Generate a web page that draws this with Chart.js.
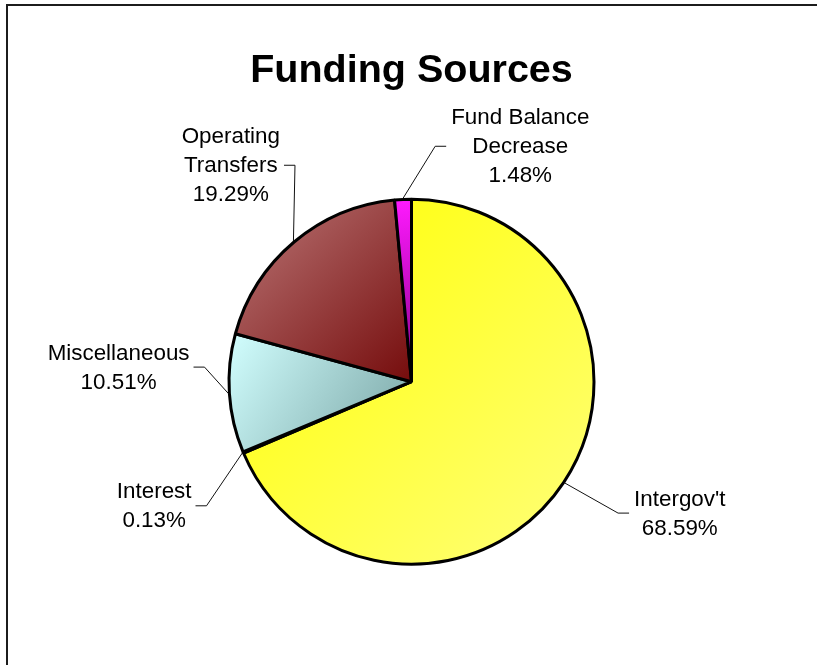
<!DOCTYPE html>
<html>
<head>
<meta charset="utf-8">
<script src="https://cdn.jsdelivr.net/npm/chart.js@4.4.1/dist/chart.umd.min.js"></script>
<style>
    body { margin: 0; background: #fff; overflow: hidden; }
    #wrap { position: relative; width: 817px; height: 665px; }
    #frame {
        position: absolute; left: 6px; top: 4px; width: 900px; height: 800px;
        border-left: 2px solid #1c1c1c; border-top: 2px solid #1c1c1c;
    }
    #c_funding { position: absolute; left: 0; top: 0; }
</style>
</head>
<body>
<div id="wrap">
    <div id="frame"></div>
    <canvas id="c_funding" width="817" height="665"></canvas>
</div>
<script>
// Funding sources, clockwise from 12 o'clock
const sources = ["Intergov't", 'Interest', 'Miscellaneous', 'Operating Transfers', 'Fund Balance Decrease']
const shares = [68.59, 0.13, 10.51, 19.29, 1.48]
// label text split over lines
const labelLines = [["Intergov't"], ['Interest'], ['Miscellaneous'], ['Operating', 'Transfers'], ['Fund Balance', 'Decrease']]
// slice fill: light corner -> dark corner
const fillFrom = ['#ffff00', '#3366cc', '#d2ffff', '#bb7777', '#ff1aff']
const fillTo = ['#ffff7a', '#1a3a80', '#78a3a3', '#750c0c', '#8a008a']

const labelFont = '22.4px "Liberation Sans", Arial, sans-serif'
const pieRadius = 182.5

// where each label block sits, in pie radii from the centre
const labelPos = [
    [1.47, 0.72],
    [-1.41, 0.68],
    [-1.605, -0.08],
    [-0.99, -1.186],
    [0.596, -1.29]
]

const total = shares.reduce((a, b) => a + b, 0)

function sliceGradient(c) {
    const chart = c.chart
    const area = chart.chartArea
    const i = c.dataIndex
    if (!area || i === undefined) return fillFrom[i] || fillFrom[0]
    const cx = (area.left + area.right) / 2
    const cy = (area.top + area.bottom) / 2
    let before = 0
    for (let k = 0; k < i; k++) before += shares[k]
    const a0 = -Math.PI / 2 + 2 * Math.PI * before / total
    const a1 = a0 + 2 * Math.PI * shares[i] / total
    // bounding box of the sector
    let pts = [[cx, cy], [cx + Math.cos(a0) * pieRadius, cy + Math.sin(a0) * pieRadius],
        [cx + Math.cos(a1) * pieRadius, cy + Math.sin(a1) * pieRadius]]
    for (let q = -1; q <= 4; q++) {
        const a = q * Math.PI / 2
        if (a > a0 && a < a1) pts.push([cx + Math.cos(a) * pieRadius, cy + Math.sin(a) * pieRadius])
    }
    const xs = pts.map(p => p[0]), ys = pts.map(p => p[1])
    const g = chart.ctx.createLinearGradient(Math.min(...xs), Math.min(...ys), Math.max(...xs), Math.max(...ys))
    g.addColorStop(0, fillFrom[i])
    g.addColorStop(1, fillTo[i])
    return g
}

// outside labels with elbow leader lines
const outsideLabels = {
    id: 'outsideLabels',
    afterDatasetsDraw(chart) {
        const ctx = chart.ctx
        const arcs = chart.getDatasetMeta(0).data
        ctx.save()
        ctx.font = labelFont
        ctx.fillStyle = '#000'
        ctx.strokeStyle = '#111'
        ctx.lineWidth = 1
        ctx.textAlign = 'center'
        ctx.textBaseline = 'middle'
        const lineH = 29
        arcs.forEach((arc, i) => {
            const { x, y, startAngle, endAngle, outerRadius } = arc.getProps(['x', 'y', 'startAngle', 'endAngle', 'outerRadius'], true)
            const mid = (startAngle + endAngle) / 2
            const ax = x + Math.cos(mid) * (outerRadius + 1)
            const ay = y + Math.sin(mid) * (outerRadius + 1)
            const lines = labelLines[i].concat([shares[i].toFixed(2) + '%'])
            const bx = x + labelPos[i][0] * outerRadius
            const by = y + labelPos[i][1] * outerRadius
            const w = Math.max(...lines.map(t => ctx.measureText(t).width))
            const right = labelPos[i][0] > 0
            const endX = right ? bx - w / 2 - 5 : bx + w / 2 + 4
            const elbowX = right ? endX - 11 : endX + 11
            ctx.beginPath()
            ctx.moveTo(ax, ay)
            ctx.lineTo(elbowX, by)
            ctx.lineTo(endX, by)
            ctx.stroke()
            const top = by - (lines.length - 1) * lineH / 2
            lines.forEach((t, k) => ctx.fillText(t, bx, top + k * lineH + 1))
        })
        ctx.restore()
    }
}

const ctx = document.getElementById('c_funding').getContext('2d')
new Chart(ctx, {
    type: 'pie',
    data: {
        labels: sources,
        datasets: [{
            data: shares,
            backgroundColor: sliceGradient,
            borderColor: '#000',
            borderWidth: 3,
            radius: pieRadius
        }]
    },
    options: {
        responsive: false,
        animation: false,
        events: [],
        layout: { padding: { left: 6, right: 0, top: 0, bottom: 4 } },
        plugins: {
            legend: { display: false },
            tooltip: { enabled: false },
            title: {
                display: true,
                text: 'Funding Sources',
                color: '#000',
                font: { family: '"Liberation Sans", Arial, sans-serif', size: 39.5, weight: 'bold', lineHeight: 1.2 },
                padding: { top: 47, bottom: 8 }
            }
        }
    },
    plugins: [outsideLabels]
})
</script>
</body>
</html>
